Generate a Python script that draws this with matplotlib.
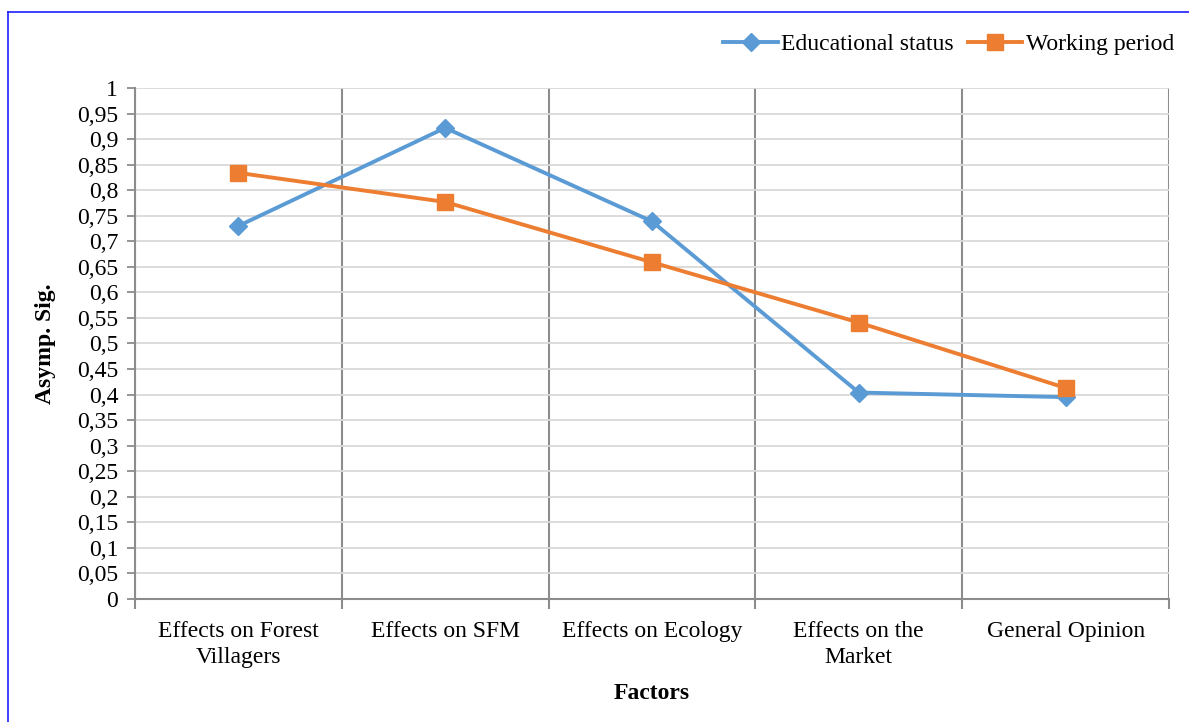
import matplotlib.pyplot as plt
from matplotlib.lines import Line2D
from matplotlib.ticker import FuncFormatter, MultipleLocator, FixedLocator

categories = ["Effects on Forest\nVillagers", "Effects on SFM", "Effects on Ecology",
              "Effects on the\nMarket", "General Opinion"]
educational_status = [0.730, 0.922, 0.739, 0.404, 0.395]
working_period = [0.834, 0.777, 0.659, 0.541, 0.413]

plt.rcParams["font.family"] = ["Liberation Serif", "DejaVu Serif"]
fs = 17

fig = plt.figure(figsize=(11.89, 7.22), dpi=100)
ax = fig.add_axes([0.1135, 0.1704, 0.8697, 0.7077])

x = range(len(categories))
ax.plot(x, educational_status, color="#5B9BD5", lw=2.8, marker="D", ms=9.5,
        label="Educational status", zorder=3)
ax.plot(x, working_period, color="#ED7D31", lw=2.8, marker="s", ms=11,
        label="Working period", zorder=3)

ax.set_xlim(-0.5, len(categories) - 0.5)
ax.set_ylim(0, 1)

ax.yaxis.set_major_locator(MultipleLocator(0.05))
ax.yaxis.set_major_formatter(FuncFormatter(lambda v, p: f"{v:.2f}".rstrip("0").rstrip(".").replace(".", ",")))
ax.set_xticks(list(x))
ax.set_xticklabels(categories, linespacing=1.3)
ax.xaxis.set_minor_locator(FixedLocator([i - 0.5 for i in range(len(categories) + 1)]))

ax.tick_params(axis="x", which="major", length=0, pad=16, labelsize=fs)
ax.tick_params(axis="x", which="minor", length=7, width=1.5, color="#8c8c8c")
ax.tick_params(axis="y", length=6, width=1.3, color="#8c8c8c", labelsize=fs, pad=6)

ax.grid(axis="y", color="#d9d9d9", lw=1.3)
ax.grid(axis="x", which="minor", color="#8c8c8c", lw=1.5)
ax.set_axisbelow(True)

for side in ["top", "right"]:
    ax.spines[side].set_visible(False)
for side in ["left", "bottom"]:
    ax.spines[side].set_color("#8c8c8c")
    ax.spines[side].set_linewidth(1.5)

ax.set_ylabel("Asymp. Sig.", fontsize=fs, fontweight="bold", labelpad=15)
ax.set_xlabel("Factors", fontsize=fs, fontweight="bold", labelpad=11)

ax.legend(loc="lower right", bbox_to_anchor=(1.005, 1.065), ncol=2, frameon=False,
          fontsize=fs, handlelength=2.3, handletextpad=0.15, columnspacing=0.6,
          borderaxespad=0, borderpad=0)

# frame edges along the top and left of the figure
fig.add_artist(Line2D([8 / 1189, 1], [1 - 12 / 722, 1 - 12 / 722], color="#1f1fff", lw=1.2))
fig.add_artist(Line2D([8 / 1189, 8 / 1189], [0, 1 - 12 / 722], color="#1f1fff", lw=1.2))

fig.savefig("out.png", dpi=100)
